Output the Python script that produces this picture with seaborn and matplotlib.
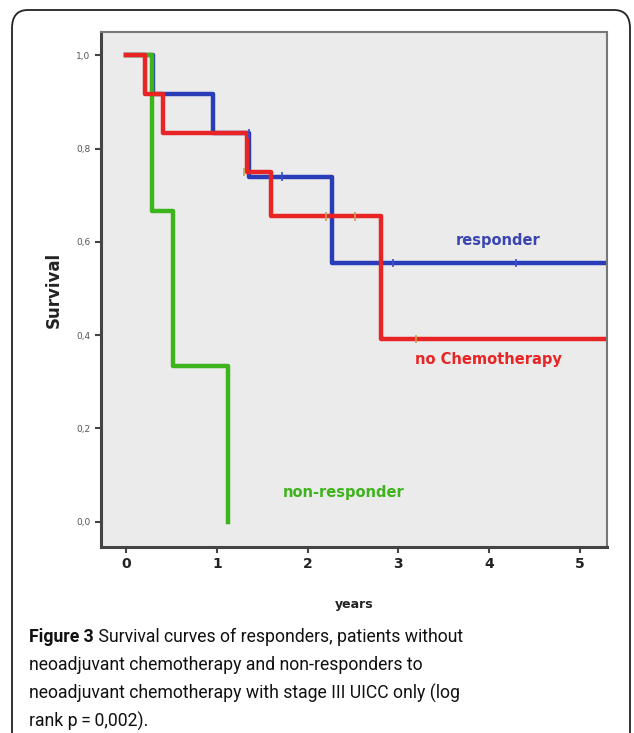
import numpy as np
import pandas as pd
import matplotlib
matplotlib.use("Agg")
from matplotlib import pyplot as plt
from matplotlib import font_manager
from matplotlib.patches import FancyBboxPatch
import seaborn as sns

# step points of the three Kaplan-Meier curves (years, survival)
resp_t = [0, 0.29, 0.95, 1.35, 2.27, 5.4]
resp_s = [1.0, 0.917, 0.833, 0.74, 0.555, 0.555]
chemo_t = [0, 0.2, 0.4, 1.33, 1.6, 2.81, 5.4]
chemo_s = [1.0, 0.917, 0.833, 0.75, 0.655, 0.392, 0.392]
nonresp_t = [0, 0.28, 0.51, 1.12]
nonresp_s = [1.0, 0.667, 0.333, 0.0]

# censored observations
resp_cens_t = [1.35, 1.72, 2.94, 4.3]
resp_cens_s = [0.833, 0.74, 0.555, 0.555]
chemo_cens_t = [1.3, 2.2, 2.52, 3.19]
chemo_cens_s = [0.75, 0.655, 0.655, 0.392]

yticks = [0.0, 0.2, 0.4, 0.6, 0.8, 1.0]
ytick_labels = ["0,0", "0,2", "0,4", "0,6", "0,8", "1,0"]
xticks = [0, 1, 2, 3, 4, 5]

caption_bold = "Figure 3"
caption_lines = [
    "Survival curves of responders, patients without",
    "neoadjuvant chemotherapy and non-responders to",
    "neoadjuvant chemotherapy with stage III UICC only (log",
    "rank p\u2009=\u20090,002).",
]

blue = "#2a3db8"
red = "#e82424"
green = "#3db31c"

df = pd.concat([
    pd.DataFrame({"years": resp_t, "Survival": resp_s, "group": "responder"}),
    pd.DataFrame({"years": nonresp_t, "Survival": nonresp_s, "group": "non-responder"}),
    pd.DataFrame({"years": chemo_t, "Survival": chemo_s, "group": "no Chemotherapy"}),
])
cens = pd.concat([
    pd.DataFrame({"years": resp_cens_t, "Survival": resp_cens_s, "group": "responder"}),
    pd.DataFrame({"years": chemo_cens_t, "Survival": chemo_cens_s, "group": "no Chemotherapy"}),
])
pal = {"responder": blue, "non-responder": green, "no Chemotherapy": red}

names = {f.name for f in font_manager.fontManager.ttflist}
cap_font = "Liberation Sans Narrow" if "Liberation Sans Narrow" in names else "Roboto"
cap_size = 14 if cap_font == "Liberation Sans Narrow" else 12.7

fig = plt.figure(figsize=(6.34, 7.33), dpi=100)
ax = fig.add_axes([0.1593, 0.2538, 0.798, 0.7025])
ax.set_facecolor("#ebebeb")

sns.lineplot(data=df, x="years", y="Survival", hue="group", palette=pal,
             estimator=None, sort=False, drawstyle="steps-post",
             linewidth=3.2, legend=False, ax=ax)
sns.scatterplot(data=cens, x="years", y="Survival", hue="group",
                palette={"responder": "#3a4fc8", "no Chemotherapy": "#c8a050"},
                marker="|", s=40, linewidth=1.2, legend=False, ax=ax, zorder=5)

ax.set_xlim(-0.28, 5.3)
ax.set_ylim(-0.054, 1.05)
ax.set_xticks(xticks)
ax.set_xticklabels([str(x) for x in xticks], fontsize=10, fontweight="bold", color="#222222")
ax.set_yticks(yticks)
ax.set_yticklabels(ytick_labels, fontsize=6.5, color="#555555")
ax.tick_params(axis="both", direction="out", length=4, width=1.5, color="#444444")
for side in ["left", "bottom"]:
    ax.spines[side].set_linewidth(2.2)
    ax.spines[side].set_color("#444444")
for side in ["top", "right"]:
    ax.spines[side].set_linewidth(1.5)
    ax.spines[side].set_color("#777777")

ax.set_xlabel("years", fontsize=9, fontweight="bold", color="#222222", labelpad=19)
ax.set_ylabel("Survival", fontsize=12, fontweight="bold", color="#222222", labelpad=10)

ax.text(4.1, 0.603, "responder", color="#3a45b0", fontsize=10.5, fontweight="bold",
        ha="center", va="center")
ax.text(3.99, 0.347, "no Chemotherapy", color=red, fontsize=10.5, fontweight="bold",
        ha="center", va="center")
ax.text(1.73, 0.062, "non-responder", color=green, fontsize=10.5, fontweight="bold",
        ha="left", va="center")

# rounded frame around the figure panel
frame = FancyBboxPatch((12 / 634, -0.05), 618 / 634, 1 - 10 / 733 + 0.05,
                       boxstyle="round,pad=0,rounding_size=0.025",
                       transform=fig.transFigure, fill=False,
                       edgecolor="#222222", linewidth=1.3, clip_on=False)
fig.patches.append(frame)

# caption: bold "Figure 3" followed by the regular text
cap_x = 29 / 634
cap_y = [637, 665, 693, 721]
head = fig.text(cap_x, 1 - cap_y[0] / 733, caption_bold, fontsize=cap_size,
                fontweight="bold", family=cap_font, va="center", color="#111111")
ax.annotate(" " + caption_lines[0], xy=(1, 0.5), xycoords=head, va="center",
            ha="left", fontsize=cap_size, family=cap_font, color="#111111",
            annotation_clip=False)
for yy, t in zip(cap_y[1:], caption_lines[1:]):
    fig.text(cap_x, 1 - yy / 733, t, fontsize=cap_size, family=cap_font,
             va="center", color="#111111")

fig.savefig("out.png", dpi=100)
